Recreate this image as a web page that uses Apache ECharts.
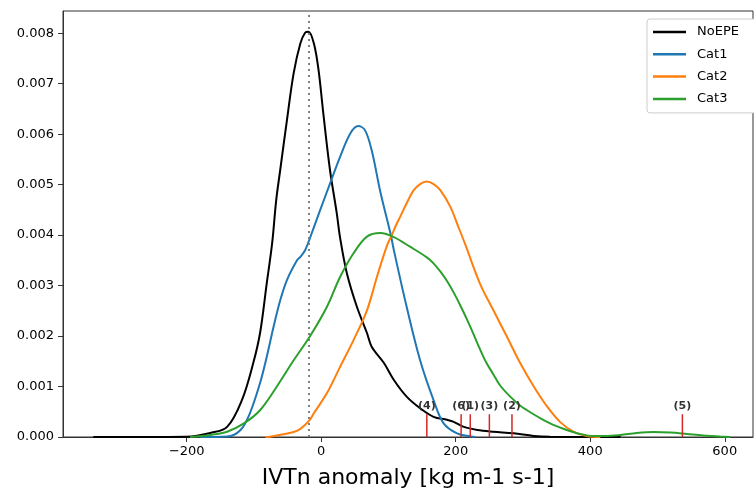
<!DOCTYPE html>
<html>
<head>
<meta charset="utf-8">
<script src="https://cdn.jsdelivr.net/npm/echarts@6/dist/echarts.min.js"></script>
<style>html,body{margin:0;padding:0;background:#fff}#c{width:754px;height:495px}</style>
</head>
<body>
<div id="c"></div>
<script>
// ---- data (x: IVTn anomaly, y: density) ----
const seriesNames = ['NoEPE', 'Cat1', 'Cat2', 'Cat3'];
const noepe = [[-339,0],[-254,0.000002],[-200,0.000006],[-165,0.00008],[-140,0.0002],[-118,0.00073],[-101,0.00147],[-91,0.00206],[-81,0.00305],[-73,0.00384],[-67,0.00469],[-61,0.00529],[-51,0.00628],[-41,0.00721],[-31,0.0078],[-24,0.00801],[-19,0.00803],[-11,0.0078],[-4,0.00727],[3,0.00642],[13,0.00529],[23,0.00444],[28,0.00395],[38,0.00325],[53,0.00258],[68,0.00206],[75,0.00179],[93,0.00147],[108,0.00113],[127,0.0008],[147,0.00057],[167,0.0004],[187,0.00034],[197,0.0003],[212,0.0002],[232,0.00014],[256,0.000105],[286,0.000073],[316,0.00002],[340,0.000005],[415,0.000001],[445,0]];
const cat1 = [[-180,0],[-140,0.00001],[-120,0.00014],[-106,0.000475],[-91,0.00107],[-81,0.00159],[-71,0.00218],[-61,0.00271],[-51,0.00311],[-36,0.0035],[-31,0.00357],[-24,0.0037],[-16,0.00397],[-1.5,0.0045],[13,0.00502],[28,0.00555],[43,0.00601],[55,0.00616],[65,0.00608],[75,0.00568],[88,0.00485],[103,0.00403],[108,0.0037],[127,0.00258],[147,0.00152],[167,0.00073],[182,0.00027],[202,0.00007],[222,0.00001],[229,0]];
const cat2 = [[-83,0],[-76,0.000006],[-41,0.0001],[-31,0.00016],[-17,0.00034],[-11,0.00047],[8.5,0.00087],[28,0.00139],[48,0.00192],[68,0.00251],[83,0.00318],[98,0.0038],[105,0.004],[112,0.00422],[118,0.00438],[127,0.00463],[137,0.00488],[147,0.00501],[157,0.00506],[167,0.00501],[177,0.00489],[192,0.00456],[204,0.00416],[214,0.00382],[236,0.00304],[256,0.00251],[276,0.00199],[296,0.00146],[316,0.001],[336,0.0006],[355,0.0003],[375,0.000105],[395,0.00002],[415,0]];
const cat3 = [[-195,0],[-165,0.00004],[-140,0.000105],[-115,0.00027],[-91,0.00053],[-66,0.001],[-41,0.00152],[-17,0.00199],[8.5,0.00258],[28,0.00317],[48,0.00364],[68,0.00397],[88,0.00404],[108,0.00396],[132,0.00377],[157,0.00356],[167,0.00344],[177,0.00328],[187,0.00309],[197,0.00286],[207,0.0026],[217,0.00232],[227,0.00202],[236,0.00174],[246,0.00146],[256,0.00124],[266,0.00102],[281,0.0008],[296,0.00062],[306,0.00053],[326,0.00037],[345,0.00024],[365,0.00014],[385,0.00006],[405,0.00002],[425,0.00002],[445,0.00004],[469,0.00008],[494,0.0001],[519,0.00009],[544,0.00006],[568,0.00003],[593,0.00001],[608,0]];
const eventLabels = ['(1)', '(2)', '(3)', '(4)', '(5)', '(6)'];
const eventX = [221.6, 283.6, 250, 157, 537, 208];
const eventTop = 0.00045;
const eventLabelY = 0.00061;
const refLineX = -19;
const xTicks = [-200, 0, 200, 400, 600];
const yTicks = [0, 0.001, 0.002, 0.003, 0.004, 0.005, 0.006, 0.007, 0.008];
const xRange = [-384, 642];
const yRange = [0, 0.00844];

const colors = ['#000000', '#1f77b4', '#ff7f0e', '#2ca02c'];
const FONT = 'DejaVu Sans';
const chart = echarts.init(document.getElementById('c'), null, {renderer: 'canvas'});

const lineSeries = [noepe, cat1, cat2, cat3].map((d, i) => ({
  name: seriesNames[i],
  type: 'line',
  data: d,
  showSymbol: false,
  symbol: 'none',
  smooth: 0.35,
  lineStyle: {color: colors[i], width: 2},
  itemStyle: {color: colors[i]},
  z: 2 + i,
  silent: true
}));
lineSeries[0].markLine = {
  silent: true,
  symbol: ['none', 'none'],
  label: {show: false},
  lineStyle: {color: '#808080', type: [2, 4], width: 2},
  data: [{xAxis: refLineX}]
};

const minus = v => (v < 0 ? '\u2212' + Math.abs(v) : String(v));

chart.setOption({
  animation: false,
  color: colors,
  grid: {left: 63, right: 1, top: 11, bottom: 58, containLabel: false,
         show: true, borderColor: '#333', borderWidth: 1, backgroundColor: 'transparent'},
  legend: {
    data: seriesNames,
    orient: 'vertical',
    left: 647, top: 19,
    padding: [6, 40, 7, 6],
    icon: 'rect',
    itemWidth: 33, itemHeight: 2.5, itemGap: 8.3,
    backgroundColor: '#fff',
    borderColor: '#cccccc', borderWidth: 1, borderRadius: 3,
    textStyle: {fontFamily: FONT, fontSize: 13, color: '#000', lineHeight: 14, padding: [0, 0, 0, 6]},
    selectedMode: false
  },
  xAxis: {
    type: 'value', min: xRange[0], max: xRange[1],
    name: 'IVTn anomaly [kg m-1 s-1]', nameLocation: 'middle', nameGap: 30,
    nameTextStyle: {fontFamily: FONT, fontSize: 22, color: '#000'},
    splitLine: {show: false},
    axisLine: {show: true, onZero: false, lineStyle: {color: '#333', width: 1}},
    axisTick: {show: true, inside: false, length: 5, lineStyle: {color: '#333'}, customValues: xTicks},
    axisLabel: {fontFamily: FONT, fontSize: 13, color: '#000', margin: 8, customValues: xTicks, formatter: minus}
  },
  yAxis: {
    type: 'value', min: yRange[0], max: yRange[1],
    splitLine: {show: false},
    axisLine: {show: true, onZero: false, lineStyle: {color: '#333', width: 1}},
    axisTick: {show: true, inside: false, length: 5, lineStyle: {color: '#333'}, customValues: yTicks},
    axisLabel: {fontFamily: FONT, fontSize: 13, color: '#000', margin: 9, customValues: yTicks,
                formatter: v => v.toFixed(3)}
  },
  series: lineSeries.concat([{
    type: 'custom',
    silent: true,
    z: 10,
    data: eventX.map(x => [x]),
    encode: {x: 0},
    renderItem: function (params, api) {
      const x = api.value(0);
      const p0 = api.coord([x, 0]);
      const p1 = api.coord([x, eventTop]);
      const pl = api.coord([x, eventLabelY]);
      return {
        type: 'group',
        children: [
          {type: 'line', shape: {x1: p0[0], y1: p0[1], x2: p1[0], y2: p1[1]},
           style: {stroke: '#d62728', lineWidth: 1.5}},
          {type: 'text', x: pl[0], y: pl[1],
           style: {text: eventLabels[params.dataIndex], align: 'center', verticalAlign: 'middle',
                   fontFamily: FONT, fontWeight: 'bold', fontSize: 11, fill: '#333'}}
        ]
      };
    }
  }])
});
</script>
</body>
</html>
